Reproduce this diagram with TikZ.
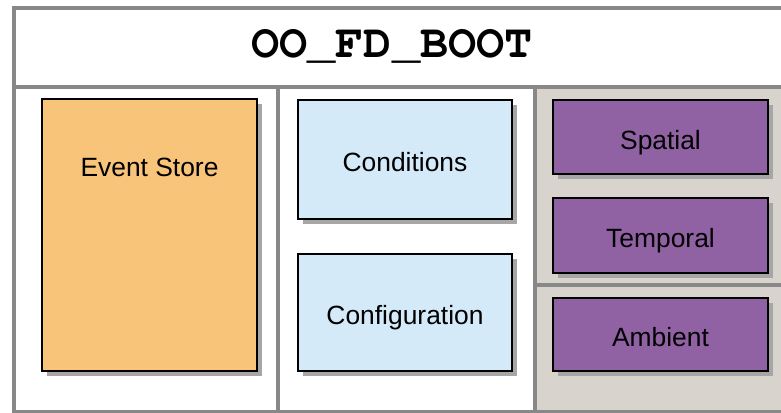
\documentclass[tikz,border=0pt]{standalone}
\usepackage{fontspec}
\setmainfont{Liberation Sans}
\newfontfamily\titlefont{TeX Gyre Cursor}
\usetikzlibrary{shadows}

\definecolor{framegray}{HTML}{888888}
\definecolor{panelbeige}{HTML}{D9D3CE}
\definecolor{storeorange}{HTML}{F7C47A}
\definecolor{condblue}{HTML}{D4EAF9}
\definecolor{sensepurple}{HTML}{9062A3}

\tikzset{
    partline/.style={color=framegray, line width=4pt},
    compbox/.style={draw=black, line width=2pt, inner sep=0pt,
        font=\fontsize{26.4}{30}\selectfont,
        text height=24.5pt, text depth=0pt,
        drop shadow={shadow xshift=5pt, shadow yshift=-5pt,
            fill=black!35, opacity=1}},
}

\begin{document}
\begin{tikzpicture}[x=1pt, y=-1pt]
    \clip (0,0) rectangle (781,412);
    \fill[white] (0,0) rectangle (781,412);

    % panels
    \fill[panelbeige] (535,86.5) rectangle (781,412);
    \draw[partline] (14,8) rectangle (800,412);
    \draw[partline] (14,86.5) -- (781,86.5);
    \draw[partline] (278,86.5) -- (278,412);
    \draw[partline] (535,86.5) -- (535,412);
    \draw[partline] (535,285) -- (781,285);

    \node[anchor=base, font=\titlefont\bfseries\fontsize{47}{50}\selectfont]
        (boot) at (392,57) {OO\_FD\_BOOT};

    % event store
    \node[compbox, fill=storeorange, minimum width=215pt, minimum height=272pt]
        (estore) at (149.5,235) {};
    \node[font=\fontsize{26.4}{30}\selectfont] (estorelabel)
        at ([yshift=-69pt]estore.north) {Event Store};

    % conditions and configuration
    \node[compbox, fill=condblue, minimum width=214pt, minimum height=119pt]
        (cond) at (405,159.5) {Conditions};
    \node[compbox, fill=condblue, minimum width=214pt, minimum height=117pt]
        (config) at (405,312.5) {Configuration};

    % sensing
    \node[compbox, fill=sensepurple, minimum width=215pt, minimum height=74pt]
        (spatial) at (660.5,137) {Spatial};
    \node[compbox, fill=sensepurple, minimum width=215pt, minimum height=75pt]
        (temporal) at (660.5,235.5) {Temporal};
    \node[compbox, fill=sensepurple, minimum width=215pt, minimum height=73pt]
        (ambient) at (660.5,334.5) {Ambient};
\end{tikzpicture}
\end{document}
